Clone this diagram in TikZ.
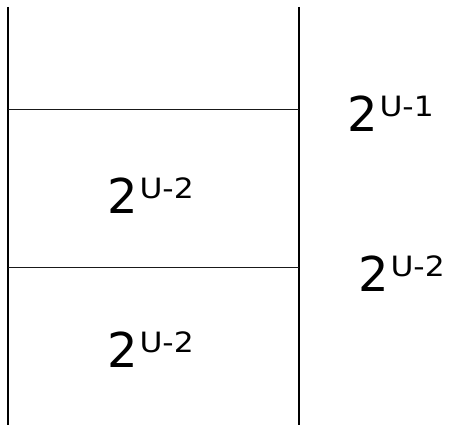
\documentclass[tikz,border=0pt]{standalone}
\usepackage{fontspec}
\usepackage{graphicx}
\setmainfont{DejaVu Sans}
\tikzset{
  vline/.style={line width=2pt, black},
  hline/.style={line width=1.6pt, black!90},
  pw/.style={anchor=base west, inner sep=0pt, outer sep=0pt}
}
\newcommand{\pwr}[1]{{\fontsize{48}{48}\selectfont 2}\hspace{2pt}\raisebox{15pt}{\scalebox{1.12}[1]{\fontsize{28}{28}\selectfont U-#1}}}
\begin{document}
\begin{tikzpicture}[x=1pt,y=-1pt]
\useasboundingbox (0,0) rectangle (450,425);
\coordinate (lt) at (8,7);
\coordinate (lb) at (8,425);
\coordinate (rt) at (298.5,7);
\coordinate (rb) at (298.5,425);
\coordinate (l1) at (8,109.5);
\coordinate (r1) at (298.5,109.5);
\coordinate (l2) at (8,267.5);
\coordinate (r2) at (298.5,267.5);
\draw[vline] (lt) -- (lb);
\draw[vline] (rt) -- (rb);
\draw[hline] (l1) -- (r1);
\draw[hline] (l2) -- (r2);
\node[pw] (mid) at (107,213) {\pwr{2}};
\node[pw] (bot) at (107,367) {\pwr{2}};
\node[pw] (ra) at (347,132) {\pwr{1}};
\node[pw] (rbl) at (358,291) {\pwr{2}};
\end{tikzpicture}
\end{document}
